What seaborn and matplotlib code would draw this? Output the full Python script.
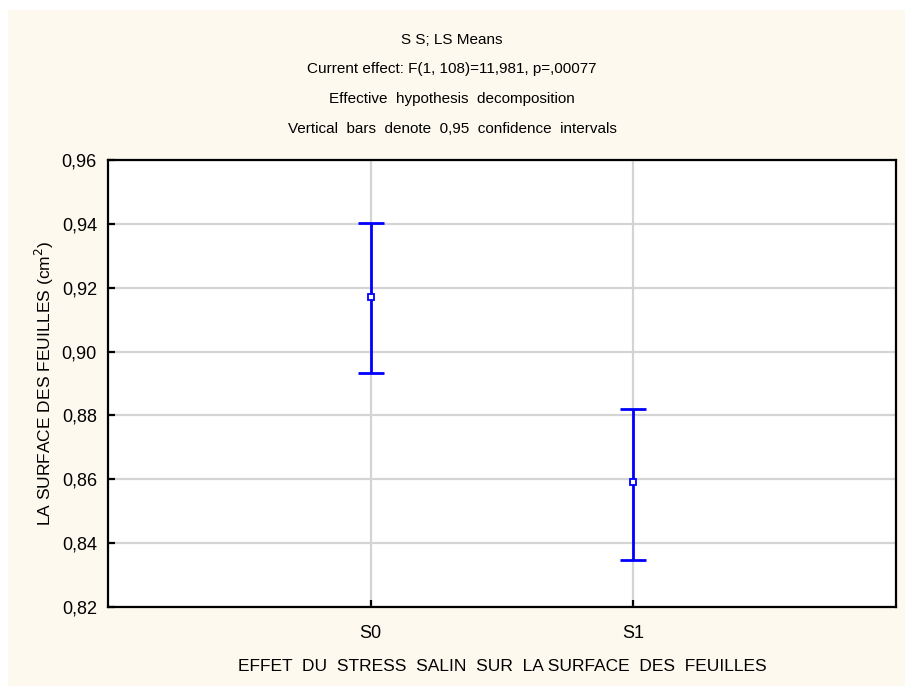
import numpy as np
import pandas as pd
import matplotlib
matplotlib.use("Agg")
import matplotlib.pyplot as plt
import seaborn as sns

# LS means and 0.95 confidence limits
groups = ["S0", "S1"]
means = [0.9172, 0.8592]
ci_low = [0.8933, 0.8347]
ci_high = [0.9402, 0.8820]

df = pd.DataFrame({"group": groups, "mean": means, "low": ci_low, "high": ci_high})

sns.set_theme(style="whitegrid")
plt.rcParams["font.family"] = ["Liberation Sans", "DejaVu Sans"]

cream = "#FDF9EE"
blue = "#0000FF"

fig = plt.figure(figsize=(9.05, 6.86), dpi=100, facecolor="white")
fig.patches.append(plt.Rectangle((8 / 905, 0), 1, 1 - 10 / 686, transform=fig.transFigure,
                                 facecolor=cream, edgecolor="none", zorder=-10))
ax = fig.add_axes([108 / 905, 1 - 607 / 686, (896 - 108) / 905, (607 - 160) / 686])
ax.set_facecolor("white")

sns.pointplot(data=df, x="group", y="mean", linestyle="none", errorbar=None,
              color=blue, marker="s", markersize=4, ax=ax, zorder=4)
# hollow markers
for coll in ax.collections:
    coll.set_facecolor("white")
    coll.set_edgecolor(blue)
    coll.set_linewidth(1.3)
for ln in ax.lines:
    ln.set_markerfacecolor("white")
    ln.set_markeredgecolor(blue)
    ln.set_markeredgewidth(1.3)

x = np.arange(len(df))
ax.errorbar(x, df["mean"], yerr=[df["mean"] - df["low"], df["high"] - df["mean"]],
            fmt="none", ecolor=blue, elinewidth=2, capsize=9.5, capthick=2, zorder=3)

ax.set_xlim(-1, 2)
ax.set_ylim(0.82, 0.96)
yticks = np.round(np.arange(0.82, 0.9601, 0.02), 2)
ax.set_yticks(yticks)
ax.set_yticklabels([f"{v:.2f}".replace(".", ",") for v in yticks])

ax.grid(True, color="#D4D4D4", linewidth=1.6)
ax.set_axisbelow(True)
for s in ax.spines.values():
    s.set_color("black")
    s.set_linewidth(1.6)
ax.tick_params(axis="both", direction="in", length=5, width=1.6, color="black",
               labelsize=13, labelcolor="black", left=True, bottom=True, pad=8)
ax.tick_params(axis="x", pad=13)

ax.set_xlabel("EFFET  DU  STRESS  SALIN  SUR  LA SURFACE  DES  FEUILLES", fontsize=12.5,
              color="black", labelpad=12)
ax.set_ylabel("LA SURFACE DES FEUILLES (cm$^2$)", fontsize=12.5, color="black", labelpad=4)

titles = ["S S; LS Means",
          "Current effect: F(1, 108)=11,981, p=,00077",
          "Effective  hypothesis  decomposition",
          "Vertical  bars  denote  0,95  confidence  intervals"]
for t, yp in zip(titles, [40, 69, 99, 129]):
    fig.text(452 / 905, 1 - yp / 686, t, ha="center", va="center", fontsize=11, color="black")

fig.savefig("out.png", dpi=100, facecolor=fig.get_facecolor())
